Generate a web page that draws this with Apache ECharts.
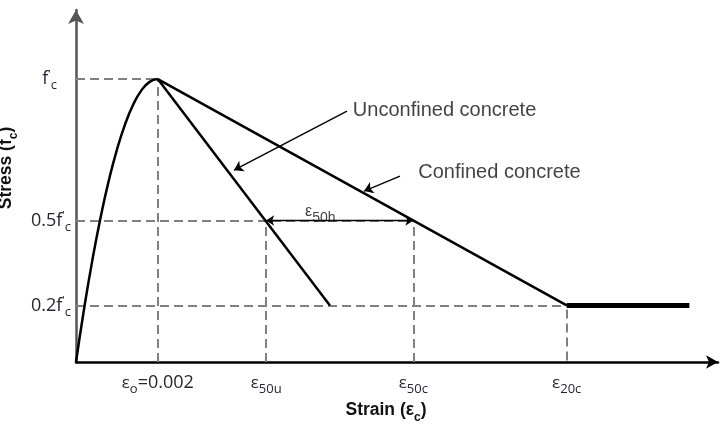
<!DOCTYPE html>
<html>
<head>
<meta charset="utf-8">
<script src="https://cdn.jsdelivr.net/npm/echarts@6/dist/echarts.min.js"></script>
<style>html,body{margin:0;padding:0;background:#fff}#c{width:720px;height:426px}</style>
</head>
<body>
<div id="c"></div>
<script>
// ---- data (strain, normalised stress f/f'c) ----
var eps0 = 0.002, eps50u = 0.00465, eps50c = 0.00825, eps20c = 0.0120;
var xTickValues = [eps0, eps50u, eps50c, eps20c];
var xTickLabels = ['{e|ε}{s|o}{n|=0.002}', '{e|ε}{s|50u}', '{e|ε}{s|50c}', '{e|ε}{s|20c}'];
var yTickValues = [0.2, 0.5, 1.0];
var yTickLabels = ["{n|0.2f}{p|'}{s|c}", "{n|0.5f}{p|'}{s|c}", "{m|f}{p|'}{s|c}"];
var ascending = [[0,0],[0.0002,0.19],[0.0004,0.36],[0.0006,0.51],[0.0008,0.64],[0.001,0.75],[0.0012,0.84],[0.0014,0.91],[0.0016,0.96],[0.0018,0.99],[0.002,1.0]];
var unconfined = [[0.002,1.0],[0.00621,0.2]];
var confined = [[0.002,1.0],[0.0120,0.2]];
var plateau = [[0.0120,0.2],[0.0150,0.2]];
var guides = [
  [[0,1.0],[eps0,1.0]], [[0,0.5],[eps50c,0.5]], [[0,0.2],[eps20c,0.2]],
  [[eps0,0],[eps0,1.0]], [[eps50u,0],[eps50u,0.5]], [[eps50c,0],[eps50c,0.5]], [[eps20c,0.005],[eps20c,0.2]]
];
// ---- annotations ----
var arrowsOne = [
  [[0.006627,0.887],[0.003864,0.678]],
  [[0.007923,0.657],[0.007043,0.604]]
];
var arrowBoth = [[eps50u,0.5],[eps50c,0.5]];
var notes = [
  {pos:[0.00677,0.890], text:'Unconfined concrete'},
  {pos:[0.00837,0.671], text:'Confined concrete'}
];
var noteEps = {pos:[0.00560,0.530], text:'{e|ε}{s|50h}'};

var chart = echarts.init(document.getElementById('c'), null, {renderer:'canvas'});
var tickFont = 'Open Sans';
var tc = '#262633';
var subRich = {
  e:{fontFamily:tickFont,fontSize:17,color:tc,verticalAlign:'middle',lineHeight:18},
  s:{fontFamily:tickFont,fontSize:13,color:tc,verticalAlign:'bottom',lineHeight:12,padding:[0,0,-4,0]},
  n:{fontFamily:tickFont,fontSize:18,color:tc,verticalAlign:'middle',lineHeight:18},
  m:{fontFamily:tickFont,fontSize:18,color:tc,verticalAlign:'middle',lineHeight:18},
  p:{fontFamily:tickFont,fontSize:11,color:tc,verticalAlign:'top',lineHeight:10,padding:[-1,0,0,0]}
};
var guideStyle = {color:'#808080', width:2, type:[9,5], opacity:1};
var series = [];
series.push({type:'lines', coordinateSystem:'cartesian2d', silent:true, z:1,
  data: guides.map(function(g){return {coords:g};}),
  lineStyle: guideStyle, symbol:'none'});
series.push({type:'line', data:ascending, smooth:0.5, symbol:'none', z:3, lineStyle:{color:'#000',width:2.5}});
series.push({type:'line', data:unconfined, symbol:'none', z:3, lineStyle:{color:'#000',width:2.5}});
series.push({type:'line', data:confined, symbol:'none', z:3, lineStyle:{color:'#000',width:2.5}});
series.push({type:'line', data:plateau, symbol:'none', z:3, lineStyle:{color:'#000',width:5}});
series.push({type:'lines', coordinateSystem:'cartesian2d', silent:true, z:4,
  data: arrowsOne.map(function(a){return {coords:a};}),
  symbol:['none','arrow'], symbolSize:[0,9], lineStyle:{color:'#000',width:1.4,opacity:1}});
series.push({type:'lines', coordinateSystem:'cartesian2d', silent:true, z:4,
  data:[{coords:arrowBoth}],
  symbol:['arrow','arrow'], symbolSize:8, lineStyle:{color:'#000',width:1.4,opacity:1}});
series.push({type:'scatter', symbolSize:0, silent:true, z:5,
  data: notes.map(function(n){return {value:n.pos, name:n.text};}),
  label:{show:true, position:'right', distance:0, formatter:'{b}', fontFamily:'Liberation Sans', fontSize:20, color:'#111'}});
series.push({type:'scatter', symbolSize:0, silent:true, z:5,
  data:[{value:noteEps.pos}],
  label:{show:true, position:'right', distance:0, formatter:noteEps.text,
    rich:{e:{fontFamily:'Liberation Sans',fontSize:16,color:'#111',verticalAlign:'middle',lineHeight:16},
          s:{fontFamily:'Liberation Sans',fontSize:14,color:'#111',verticalAlign:'bottom',lineHeight:12,padding:[0,0,-5,0]}}}});

chart.setOption({
  animation:false,
  backgroundColor:'#fff',
  grid:{left:76, right:2, top:10, bottom:64, containLabel:false, outerBoundsMode:'none'},
  xAxis:{type:'value', min:0, max:0.0157,
    name:'{b|Strain (ε}{s|c}{b|)}', nameLocation:'middle', nameGap:33,
    nameTextStyle:{padding:[0,22,0,0], rich:{
      b:{fontFamily:'Liberation Sans',fontWeight:'bold',fontSize:17.5,color:'#111',verticalAlign:'middle',lineHeight:18},
      s:{fontFamily:'Liberation Sans',fontWeight:'bold',fontSize:12,color:'#111',verticalAlign:'bottom',lineHeight:12,padding:[0,0,-5,0]}}},
    axisLine:{show:true, onZero:false, lineStyle:{color:'#000',width:2.5}, symbol:['none','arrow'], symbolSize:[10,12]},
    axisTick:{show:false}, splitLine:{show:false},
    axisLabel:{customValues:xTickValues, margin:12, formatter:function(v){var i=xTickValues.indexOf(v);return i>=0?xTickLabels[i]:'';}, rich:subRich}
  },
  yAxis:{type:'value', min:0, max:1.244,
    name:'{b|Stress (f}{s|c}{b|)}', nameLocation:'middle', nameGap:43, nameRotate:90,
    nameTextStyle:{padding:[0,0,0,36], rich:{
      b:{fontFamily:'Liberation Sans',fontWeight:'bold',fontSize:17.5,color:'#111',verticalAlign:'middle',lineHeight:18},
      s:{fontFamily:'Liberation Sans',fontWeight:'bold',fontSize:12,color:'#111',verticalAlign:'bottom',lineHeight:12,padding:[0,0,-5,0]}}},
    axisLine:{show:true, onZero:false, lineStyle:{color:'#555',width:2.5}, symbol:['none','arrow'], symbolSize:[12,14]},
    axisTick:{show:false}, splitLine:{show:false},
    axisLabel:{customValues:yTickValues, margin:5, formatter:function(v){var i=yTickValues.indexOf(v);var s=i>=0?yTickLabels[i]:'';return v===1?s+'{g| }':s;}, rich:Object.assign({g:{width:14}}, subRich)}
  },
  series:series
});
</script>
</body>
</html>
